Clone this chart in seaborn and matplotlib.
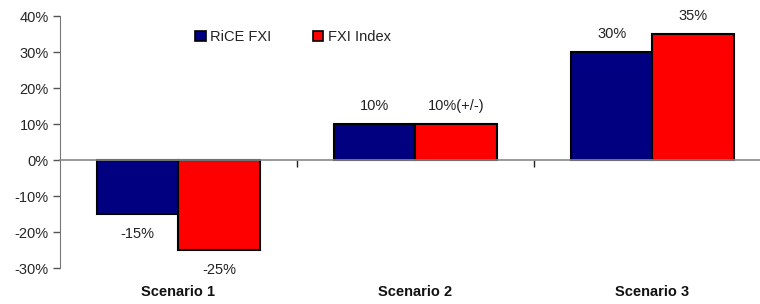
import matplotlib
matplotlib.use("Agg")
import matplotlib.pyplot as plt
import matplotlib.transforms as mtransforms
from matplotlib import font_manager
from matplotlib.ticker import FuncFormatter, FixedLocator
import seaborn as sns
import pandas as pd

categories = ["Scenario 1", "Scenario 2", "Scenario 3"]
series_names = ["RiCE FXI", "FXI Index"]
rice_fxi = [-15, 10, 30]
fxi_index = [-25, 10, 35]
rice_labels = ["-15%", "10%", "30%"]
fxi_labels = ["-25%", "10%(+/-)", "35%"]
y_ticks = [-30, -20, -10, 0, 10, 20, 30, 40]

colors = ["#000080", "#FF0000"]

sns.set_style("white")
names = {f.name for f in font_manager.fontManager.ttflist}
fam = "Liberation Sans Narrow" if "Liberation Sans Narrow" in names else "Liberation Sans"
plt.rcParams["font.family"] = [fam, "DejaVu Sans"]
plt.rcParams["text.color"] = "#222222"

df = pd.DataFrame({
    "Scenario": categories * 2,
    "Series": [series_names[0]] * 3 + [series_names[1]] * 3,
    "Value": rice_fxi + fxi_index,
})

W, H = 760, 304
fig = plt.figure(figsize=(W / 100, H / 100), dpi=100)
ax = fig.add_axes([60 / W, (H - 268) / H, 711 / W, (268 - 16) / H])

sns.barplot(data=df, x="Scenario", y="Value", hue="Series", order=categories,
            hue_order=series_names, palette=colors, width=0.69, gap=0,
            edgecolor="black", linewidth=1.5, saturation=1, ax=ax, legend=True)

ax.set_ylim(-30, 40)
ax.set_xlim(-0.5, 2.5)
ax.set_yticks(y_ticks)
ax.yaxis.set_major_formatter(FuncFormatter(lambda v, p: f"{v:.0f}%"))
ax.tick_params(axis="y", direction="out", length=5, width=1, color="#555555",
               labelsize=10.5, pad=3, left=True)

for s in ["top", "right"]:
    ax.spines[s].set_visible(False)
ax.spines["left"].set_color("#777777")
ax.spines["bottom"].set_position(("data", 0))
ax.spines["bottom"].set_color("#888888")
ax.spines["bottom"].set_linewidth(1.2)
ax.set_zorder(1)

ax.xaxis.set_major_locator(FixedLocator([0.5, 1.5, 2.5]))
ax.set_xticklabels([])
ax.tick_params(axis="x", direction="out", length=5, width=1, color="#222222", bottom=True)
ax.set_xlabel("")
ax.set_ylabel("")

trans = mtransforms.blended_transform_factory(ax.transData, fig.transFigure)
for i, c in enumerate(categories):
    ax.text(i, 1 - 292 / H, c, transform=trans, ha="center", va="center",
            fontsize=10.5, fontweight="bold", color="#111111")

containers = ax.containers
for cont, vals, labs in zip(containers, [rice_fxi, fxi_index], [rice_labels, fxi_labels]):
    for bar, v, lab in zip(cont, vals, labs):
        x = bar.get_x() + bar.get_width() / 2
        off = 18 if v > 0 else -20
        ax.annotate(lab, (x, v), xytext=(0, off * 0.72), textcoords="offset points",
                    ha="center", va="center", fontsize=10.5)

leg = ax.legend(loc="center", bbox_to_anchor=(293 / W, 1 - 37 / H),
                bbox_transform=fig.transFigure, ncol=2, frameon=False,
                handlelength=0.75, handleheight=0.75, handletextpad=0.3,
                columnspacing=2.8, fontsize=10.5)
for h in leg.legend_handles:
    h.set_edgecolor("black")
    h.set_linewidth(1.2)

fig.savefig("out.png", dpi=100)
